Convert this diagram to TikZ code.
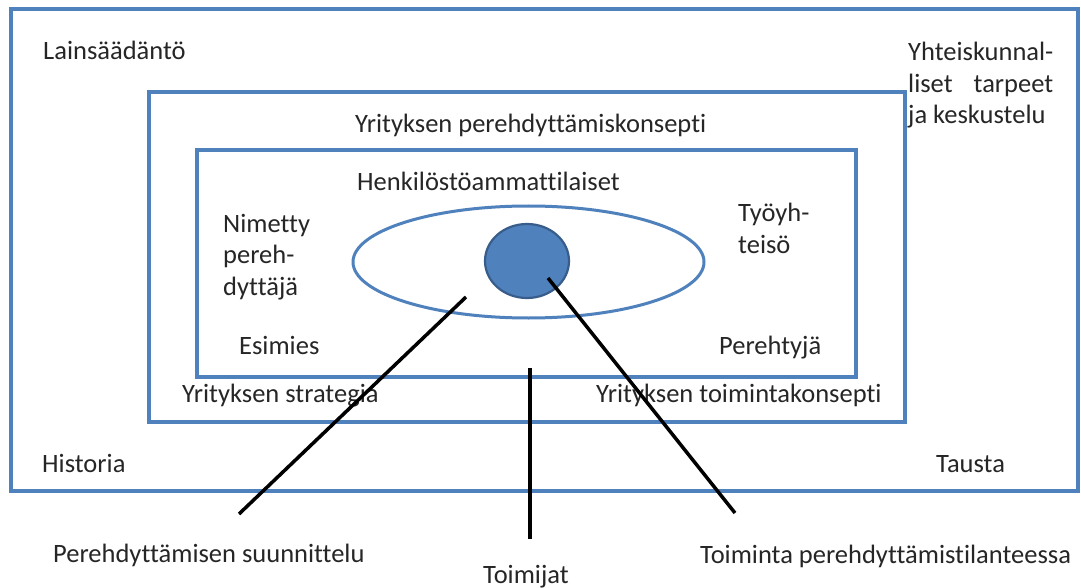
\documentclass[tikz,border=0pt]{standalone}
\usepackage{fontspec}
\usetikzlibrary{shapes.geometric}
\setmainfont{Carlito}[Ligatures=NoCommon]
\definecolor{boxblue}{HTML}{4F81BD}
\definecolor{darkblue}{HTML}{385D8A}
\definecolor{txt}{HTML}{262626}
\begin{document}
\begin{tikzpicture}[x=1pt,y=-1pt,
  frame/.style={draw=boxblue,line width=3.5pt},
  lbl/.style={anchor=base west,inner sep=0pt,text=txt,font=\fontsize{26.5}{31.5}\selectfont},
  stick/.style={draw=black,line width=3.5pt}]
\useasboundingbox[fill=white] (0,0) rectangle (1081,588);
% frames
\draw[frame] (11,9) rectangle (1078,491);
\draw[frame] (149,92) rectangle (905,422);
\draw[frame] (197,150) rectangle (856,377);
% ellipse and circle
\node[draw=boxblue,line width=3pt,ellipse,minimum width=351pt,minimum height=112pt,inner sep=0pt] (ring) at (528.5,262) {};
\node[draw=darkblue,fill=boxblue,line width=2.2pt,ellipse,minimum width=84pt,minimum height=74pt,inner sep=0pt] (core) at (527,261) {};
% labels
\node[lbl] (law) at (43,60) {Lainsäädäntö};
\node[lbl,align=left] (soc) at (908,124) {Yhteiskunnal-\\\hbox to 145pt{liset\hfill tarpeet}\\ja keskustelu};
\node[lbl] (konsepti) at (355,133) {Yrityksen perehdyttämiskonsepti};
\node[lbl] (henk) at (357,190) {Henkilöstöammattilaiset};
\node[lbl,align=left] (nim) at (223,295) {Nimetty\\pereh-\\dyttäjä};
\node[lbl,align=left] (tyo) at (738,253) {Työyh-\\teisö};
\node[lbl] (esim) at (239,354) {Esimies};
\node[lbl] (pere) at (719,354) {Perehtyjä};
\node[lbl] (strat) at (182,402) {Yrityksen strategia};
\node[lbl] (toimk) at (596,402) {Yrityksen toimintakonsepti};
\node[lbl] (hist) at (42,472) {Historia};
\node[lbl] (taus) at (936,472) {Tausta};
\node[lbl] (suun) at (53,562) {Perehdyttämisen suunnittelu};
\node[lbl] (toimij) at (483,583) {Toimijat};
\node[lbl] (toimt) at (700,563) {Toiminta perehdyttämistilanteessa};
% connectors
\coordinate (s1) at (466,297);
\coordinate (e1) at (239,514);
\coordinate (s2) at (548,278);
\coordinate (e2) at (735,513);
\coordinate (s3) at (530,368);
\coordinate (e3) at (530,539);
\draw[stick] (s1) -- (e1);
\draw[stick] (s2) -- (e2);
\draw[stick] (s3) -- (e3);
\end{tikzpicture}
\end{document}
